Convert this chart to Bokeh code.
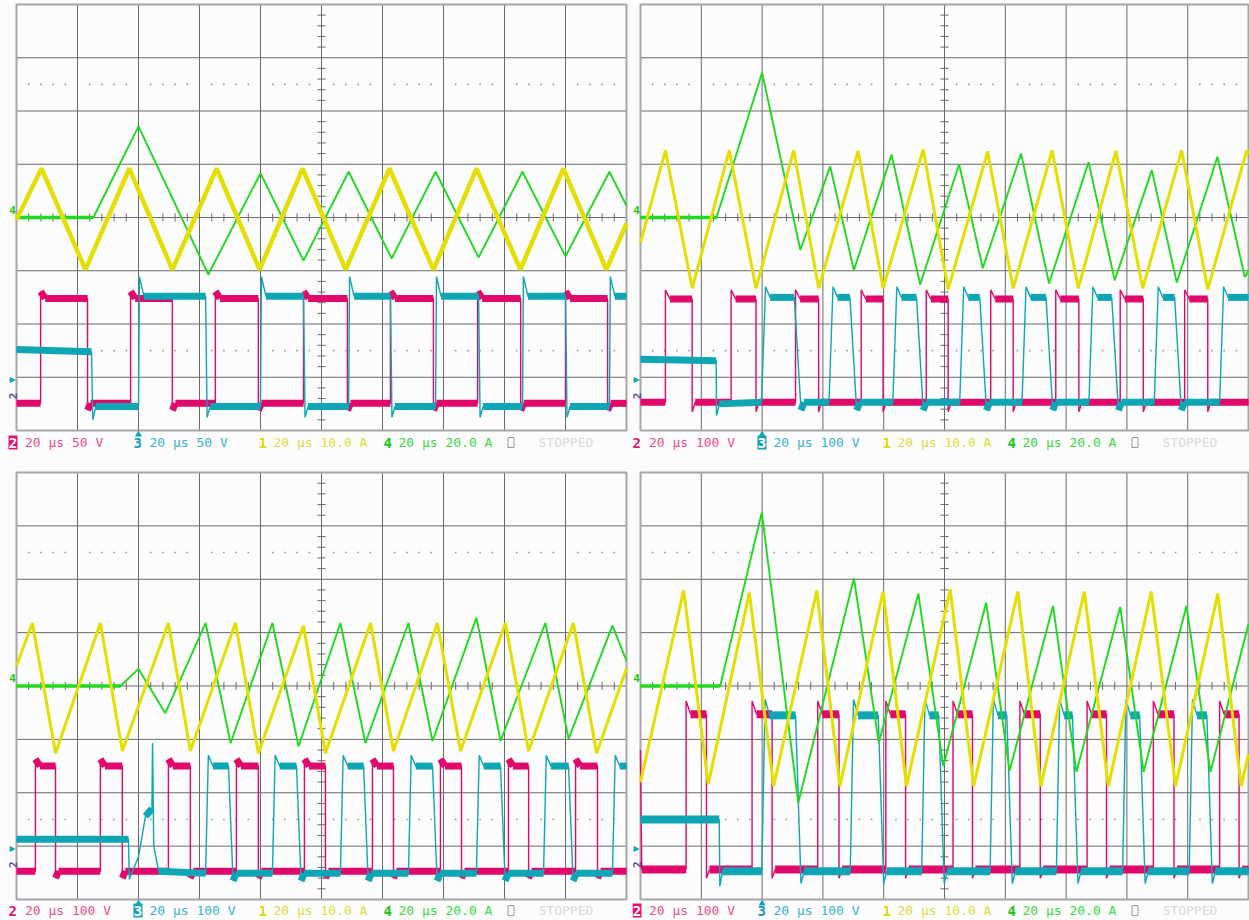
import numpy as np
from bokeh.plotting import figure
from bokeh.models import Range1d
from bokeh.layouts import row, column
from bokeh.embed import file_html
from bokeh.resources import INLINE
from bokeh.core.properties import value

# ---------------------------------------------------------------------------
# Data read from the four scope captures.
# time in microseconds (20 us/div, screen spans -100..100 us),
# amplitude in screen divisions (8 divisions tall, 0 = centre line)
# ---------------------------------------------------------------------------

# ---- panel 1 (top left) ----
p1_yel_t = [-100, -91.8, -77.4, -63.0, -48.9, -34.4, -20.3, -6.2, 7.9, 22.3, 36.7, 50.8, 65.2, 79.3, 93.4, 100]
p1_yel_v = [-0.04, 0.92, -0.98, 0.92, -0.98, 0.92, -0.98, 0.92, -0.98, 0.92, -0.98, 0.92, -0.98, 0.92, -0.98, -0.11]
p1_grn_t = [-100, -74.8, -60.0, -37.1, -20.0, -5.9, 8.9, 23.0, 37.4, 51.5, 65.9, 80.0, 94.4, 100]
p1_grn_v = [0.0, 0.0, 1.71, -1.07, 0.83, -0.81, 0.86, -0.77, 0.86, -0.75, 0.86, -0.73, 0.86, 0.22]
p1_mag_head_t = [-100]
p1_mag_head_v = [-3.49]
p1_mag_rise = [-92.1, -62.6, -34.8, -5.9, 22.6, 51.2, 80.0]
p1_mag_fall = [-76.7, -48.9, -20.7, 8.5, 36.7, 65.3, 93.8]
p1_mag_lvl = [-3.49, -1.52, -1.39, -3.62]          # low, high, overshoot, undershoot
p1_cyn_head_t = [-100, -75.4, -75.0, -74.0]
p1_cyn_head_v = [-2.48, -2.52, -3.8, -3.55]
p1_cyn_rise = [-60.0, -20.0, 8.9, 37.4, 65.9, 94.4]
p1_cyn_fall = [-38.0, -5.9, 22.6, 51.5, 80.0]
p1_cyn_lvl = [-3.55, -1.48, -1.11, -3.75]

# ---- panel 2 (top right) ----
p2_yel_t = [-100, -91.8, -83.0, -70.8, -62.0, -49.6, -41.4, -28.4, -20.2, -7.0, 1.2, 14.2, 22.6, 35.4, 44.0, 56.4, 65.2, 78.0, 86.6, 99.4, 100]
p2_yel_v = [-0.47, 1.26, -1.33, 1.26, -1.33, 1.26, -1.33, 1.25, -1.33, 1.28, -1.35, 1.24, -1.33, 1.26, -1.33, 1.25, -1.33, 1.26, -1.35, 1.26, 1.2]
p2_grn_t = [-100, -75.0, -60.0, -47.4, -37.6, -29.8, -17.4, -8.0, 4.8, 12.6, 25.2, 34.4, 47.4, 56.0, 68.2, 76.4, 89.8, 98.8, 100]
p2_grn_v = [0.0, 0.0, 2.72, -0.61, 0.96, -0.99, 1.18, -1.26, 1.0, -0.95, 1.2, -1.24, 1.04, -1.18, 0.89, -1.22, 1.14, -1.12, -1.0]
p2_mag_head_t = [-100]
p2_mag_head_v = [-3.47]
p2_mag_rise = [-91.8, -70.2, -49.0, -27.4, -6.0, 15.2, 36.6, 57.8, 79.0]
p2_mag_fall = [-83.0, -62.0, -41.4, -20.2, 1.2, 22.6, 44.2, 65.4, 86.6]
p2_mag_lvl = [-3.47, -1.53, -1.36, -3.65]
p2_cyn_head_t = [-100, -75.1, -75.0, -74.0]
p2_cyn_head_v = [-2.66, -2.69, -3.72, -3.5]
p2_cyn_rise = [-60.2, -38.0, -17.0, 5.0, 25.5, 47.5, 69.0, 90.5]
p2_cyn_fall = [-49.4, -31.1, -9.2, 11.6, 33.4, 55.0, 75.7]
p2_cyn_lvl = [-3.47, -1.5, -1.3, -3.62]

# ---- panel 3 (bottom left) ----
p3_yel_t = [-100, -94.8, -87.2, -72.5, -65.3, -50.2, -43.0, -28.2, -20.7, -5.9, 1.3, 16.1, 23.6, 38.0, 45.6, 60.3, 67.9, 82.6, 90.2, 100]
p3_yel_v = [0.38, 1.18, -1.26, 1.18, -1.22, 1.18, -1.22, 1.18, -1.26, 1.13, -1.26, 1.18, -1.22, 1.18, -1.22, 1.18, -1.22, 1.18, -1.26, 0.33]
p3_grn_t = [-100, -65.9, -60.0, -51.2, -38.0, -29.8, -16.1, -7.5, 6.2, 14.4, 28.5, 36.4, 50.8, 58.7, 73.4, 81.0, 95.4, 100]
p3_grn_v = [0.0, 0.0, 0.32, -0.51, 1.18, -1.07, 1.18, -1.13, 1.18, -1.07, 1.18, -1.03, 1.28, -1.03, 1.18, -0.99, 1.13, 0.47]
p3_mag_head_t = [-100]
p3_mag_head_v = [-3.47]
p3_mag_rise = [-93.8, -72.5, -50.2, -27.9, -5.6, 16.7, 39.0, 61.3, 83.3]
p3_mag_fall = [-87.2, -65.3, -43.0, -20.7, 1.3, 23.6, 45.9, 67.9, 90.5]
p3_mag_lvl = [-3.47, -1.5, -1.37, -3.6]
p3_cyn_head_t = [-100, -63.3, -63.0, -60.0, -57.7, -55.6, -55.4, -55.0, -53.4]
p3_cyn_head_v = [-2.87, -2.87, -3.62, -3.2, -2.44, -2.3, -1.07, -3.0, -3.47]
p3_cyn_rise = [-38.0, -16.1, 6.2, 28.5, 50.8, 72.8, 95.4]
p3_cyn_fall = [-30.5, -8.2, 13.8, 36.4, 58.7, 81.0]
p3_cyn_lvl = [-3.51, -1.5, -1.3, -3.65]

# ---- panel 4 (bottom right) ----
p4_yel_t = [-100, -85.8, -77.7, -64.2, -56.2, -42.0, -34.4, -20.2, -12.5, 1.9, 9.6, 24.1, 31.7, 46.0, 53.9, 68.0, 76.0, 89.9, 97.6, 100]
p4_yel_v = [-1.8, 1.79, -1.84, 1.75, -1.875, 1.79, -1.875, 1.77, -1.875, 1.81, -1.875, 1.77, -1.875, 1.77, -1.875, 1.77, -1.875, 1.73, -1.875, -1.28]
p4_grn_t = [-100, -73.8, -60.1, -48.1, -29.8, -21.6, -8.6, -0.4, 13.7, 21.4, 35.7, 43.4, 57.8, 65.5, 79.6, 87.5, 100]
p4_grn_v = [0.0, 0.0, 3.25, -2.19, 2.02, -1.06, 1.73, -1.5, 1.56, -1.59, 1.5, -1.61, 1.48, -1.61, 1.5, -1.61, 1.16]
p4_mag_head_t = [-100, -99.6]
p4_mag_head_v = [-1.2, -3.44]
p4_mag_rise = [-85.0, -63.3, -41.7, -19.3, 2.8, 24.8, 46.9, 68.7, 90.5]
p4_mag_fall = [-78.3, -56.7, -34.7, -12.8, 9.2, 31.5, 53.3, 75.5, 96.9]
p4_mag_lvl = [-3.44, -0.53, -0.28, -3.6]
p4_cyn_head_t = [-100, -74.1, -73.9, -73.0]
p4_cyn_head_v = [-2.5, -2.5, -3.75, -3.47]
p4_cyn_rise = [-60.1, -31.0, -7.5, 15.0, 36.8, 58.6, 80.5]
p4_cyn_fall = [-49.0, -21.8, -1.9, 20.5, 42.1, 64.2, 86.3]
p4_cyn_lvl = [-3.47, -0.55, -0.25, -3.7]

trigger_t = -60.0

# status-line texts ("" marks the small empty box symbol)
p1_status = ["2", "20 μs 50 V", "3", "20 μs 50 V", "1", "20 μs 10.0 A", "4", "20 μs 20.0 A", "", "STOPPED"]
p2_status = ["2", "20 μs 100 V", "3", "20 μs 100 V", "1", "20 μs 10.0 A", "4", "20 μs 20.0 A", "", "STOPPED"]
p3_status = ["2", "20 μs 100 V", "3", "20 μs 100 V", "1", "20 μs 10.0 A", "4", "20 μs 20.0 A", "", "STOPPED"]
p4_status = ["2", "20 μs 100 V", "3", "20 μs 100 V", "1", "20 μs 10.0 A", "4", "20 μs 20.0 A", "", "STOPPED"]

grid_t = [-80, -60, -40, -20, 0, 20, 40, 60, 80]
grid_v = [-3, -2, -1, 0, 1, 2, 3]

# ---------------------------------------------------------------------------
BG = "#fbfcfb"
GRID_C = "#6a6a6a"
MAG = "#e1086c"
CYN = "#0ea5b5"
YEL = "#e3df00"
GRN = "#1fd81f"
STATUS_COL = ["#e3106e", "#ea4d92", "#15a2b6", "#3cb3c6", "#dcd800", "#dede40",
              "#17c817", "#3fd83f", "#9a9a9a", "#d9d9d9"]
STATUS_OFF = [-8, 8.5, 117, 133, 242, 257, 367, 382, 491, 522]   # px from graticule left
MONO = value("DejaVu Sans Mono")


def square(head_t, head_v, rise, fall, lvl, rs=0.0, fs=0.0):
    lo, hi, pk, un = lvl
    ts, vs = list(head_t), list(head_v)
    for i, r in enumerate(rise):
        ts += [r, r + rs, r + rs + 1.5]
        vs += [lo, pk, hi]
        if i < len(fall):
            f = fall[i]
            ts += [f, f + fs, f + fs + 1.0]
            vs += [hi, un, lo]
        else:
            ts.append(100); vs.append(hi)
    if len(fall) == len(rise):
        ts.append(100); vs.append(lo)
    return ts, vs


def flats(ts, vs, tol):
    d = dict(x0=[], y0=[], x1=[], y1=[])
    for i in range(len(ts) - 1):
        if abs(vs[i + 1] - vs[i]) < tol and ts[i + 1] - ts[i] > 0.3:
            d["x0"].append(ts[i]); d["y0"].append(vs[i])
            d["x1"].append(ts[i + 1]); d["y1"].append(vs[i + 1])
    return d


def panel(width, height, bl, br, bt, bb, tr, status, boxed, lab_dy, yel_w, cyn_slope, plate_w):
    gw = width - bl - br          # graticule size in px
    gh = height - bt - bb
    ppu = gw / 200.0              # px per microsecond
    ppd = gh / 8.0                # px per division
    p = figure(width=width, height=height,
               x_range=Range1d(-100 - bl / ppu, 100 + br / ppu),
               y_range=Range1d(-4 - bb / ppd, 4 + bt / ppd),
               x_axis_type=None, y_axis_type=None, toolbar_location=None, output_backend="svg",
               title=None, min_border=0, background_fill_color=BG, border_fill_color=BG,
               outline_line_color=None)
    p.xgrid.visible = False
    p.ygrid.visible = False

    # graticule
    p.segment(x0=grid_t, y0=[-4] * len(grid_t), x1=grid_t, y1=[4] * len(grid_t),
              line_color=GRID_C, line_width=1)
    p.segment(x0=[-100] * len(grid_v), y0=grid_v, x1=[100] * len(grid_v), y1=grid_v,
              line_color=GRID_C, line_width=1)
    minor_t = [float(t) for t in np.arange(-96, 100, 4) if t % 20 != 0]
    minor_v = [float(v) for v in np.round(np.arange(-3.8, 4.0, 0.2), 1) if abs(v - round(v)) > 1e-6]
    p.segment(x0=minor_t, y0=[-4 / ppd] * len(minor_t), x1=minor_t, y1=[4 / ppd] * len(minor_t),
              line_color=GRID_C, line_width=1)
    p.segment(x0=[-4 / ppu] * len(minor_v), y0=minor_v, x1=[4 / ppu] * len(minor_v), y1=minor_v,
              line_color=GRID_C, line_width=1)
    p.scatter(minor_t * 2, [2.5] * len(minor_t) + [-2.5] * len(minor_t), marker="square",
              size=1.6, color="#9a9a9a", line_color=None)
    p.rect(x=[0], y=[0], width=[200], height=[8], fill_color=None, line_color="#a6a6a6", line_width=2)

    # traces
    mt, mv = square(tr["mh_t"], tr["mh_v"], tr["m_r"], tr["m_f"], tr["m_l"])
    ct, cv = square(tr["ch_t"], tr["ch_v"], tr["c_r"], tr["c_f"], tr["c_l"], rs=cyn_slope * 0.6, fs=cyn_slope)
    p.line(mt, mv, line_color=MAG, line_width=1.4)
    p.segment(line_color=MAG, line_width=plate_w, line_cap="butt", **flats(mt, mv, 0.15))
    p.line(ct, cv, line_color=CYN, line_width=1.4)
    p.segment(line_color=CYN, line_width=plate_w, line_cap="butt", **flats(ct, cv, 0.15))
    p.line(tr["g_t"], tr["g_v"], line_color=GRN, line_width=1.9)
    p.segment(line_color=GRN, line_width=3.5, line_cap="butt", **flats(tr["g_t"], tr["g_v"], 0.02))
    p.line(tr["y_t"], tr["y_v"], line_color=YEL, line_width=yel_w)

    # trigger marker under the graticule
    p.scatter([trigger_t], [-4 - 4 / ppd], marker="triangle", size=7, color=CYN, line_color=None)

    # status line
    sy = -4 - lab_dy / ppd
    for i, txt in enumerate(status):
        x = -100 + STATUS_OFF[i] / ppu
        digit = i in (0, 2, 4, 6)
        col = STATUS_COL[i]
        if txt == "":
            p.rect(x=[x + 3.5 / ppu], y=[sy], width=[6], height=[10], width_units="screen",
                   height_units="screen", fill_color=None, line_color=col, line_width=1)
        elif i == boxed:
            cx = x + 4.5 / ppu
            p.rect(x=[cx], y=[sy], width=[9], height=[14], width_units="screen",
                   height_units="screen", fill_color=col, line_color=None)
            p.text(x=[cx], y=[sy], text=[txt], text_color="white", text_font=MONO,
                   text_font_size="14px", text_font_style="bold", text_align="center",
                   text_baseline="middle")
        else:
            p.text(x=[x], y=[sy], text=[txt], text_color=col, text_font=MONO,
                   text_font_size="14px" if digit else "13px",
                   text_font_style="bold" if digit else "normal",
                   text_align="left", text_baseline="middle")

    # channel ground markers left of the graticule
    xm = -100 - 4 / ppu
    p.text(x=[xm], y=[8 / ppd], text=["4"], text_color="#17c817", text_font=MONO,
           text_font_size="11px", text_font_style="bold", text_align="center", text_baseline="middle")
    p.text(x=[xm], y=[-3.03], text=["▸"], text_color=CYN, text_font=value("DejaVu Sans"),
           text_font_size="12px", text_align="center", text_baseline="middle")
    p.text(x=[xm], y=[-3.35], text=["2"], text_color="#5d4c9c", text_font=MONO,
           text_font_size="11px", text_font_style="bold", text_align="center",
           text_baseline="middle", angle=np.pi / 2)
    return p


def traces(yt, yv, gt, gv, mht, mhv, mr, mf, ml, cht, chv, cr, cf, cl):
    return dict(y_t=yt, y_v=yv, g_t=gt, g_v=gv, mh_t=mht, mh_v=mhv, m_r=mr, m_f=mf, m_l=ml,
                ch_t=cht, ch_v=chv, c_r=cr, c_f=cf, c_l=cl)


t1 = traces(p1_yel_t, p1_yel_v, p1_grn_t, p1_grn_v, p1_mag_head_t, p1_mag_head_v, p1_mag_rise,
            p1_mag_fall, p1_mag_lvl, p1_cyn_head_t, p1_cyn_head_v, p1_cyn_rise, p1_cyn_fall, p1_cyn_lvl)
t2 = traces(p2_yel_t, p2_yel_v, p2_grn_t, p2_grn_v, p2_mag_head_t, p2_mag_head_v, p2_mag_rise,
            p2_mag_fall, p2_mag_lvl, p2_cyn_head_t, p2_cyn_head_v, p2_cyn_rise, p2_cyn_fall, p2_cyn_lvl)
t3 = traces(p3_yel_t, p3_yel_v, p3_grn_t, p3_grn_v, p3_mag_head_t, p3_mag_head_v, p3_mag_rise,
            p3_mag_fall, p3_mag_lvl, p3_cyn_head_t, p3_cyn_head_v, p3_cyn_rise, p3_cyn_fall, p3_cyn_lvl)
t4 = traces(p4_yel_t, p4_yel_v, p4_grn_t, p4_grn_v, p4_mag_head_t, p4_mag_head_v, p4_mag_rise,
            p4_mag_fall, p4_mag_lvl, p4_cyn_head_t, p4_cyn_head_v, p4_cyn_rise, p4_cyn_fall, p4_cyn_lvl)

f1 = panel(632, 470, 16, 6, 4, 40, t1, p1_status, 0, 12, 4.5, 0.5, 7)
f2 = panel(617, 470, 8, 1, 4, 40, t2, p2_status, 2, 12, 3.0, 2.2, 7)
f3 = panel(632, 450, 16, 6, 2, 21, t3, p3_status, 2, 11, 3.0, 1.5, 7)
f4 = panel(617, 450, 8, 1, 2, 21, t4, p4_status, 0, 11, 3.0, 1.8, 8)

layout = column(row(f1, f2), row(f3, f4))
open("out.html", "w").write(file_html(layout, INLINE))
